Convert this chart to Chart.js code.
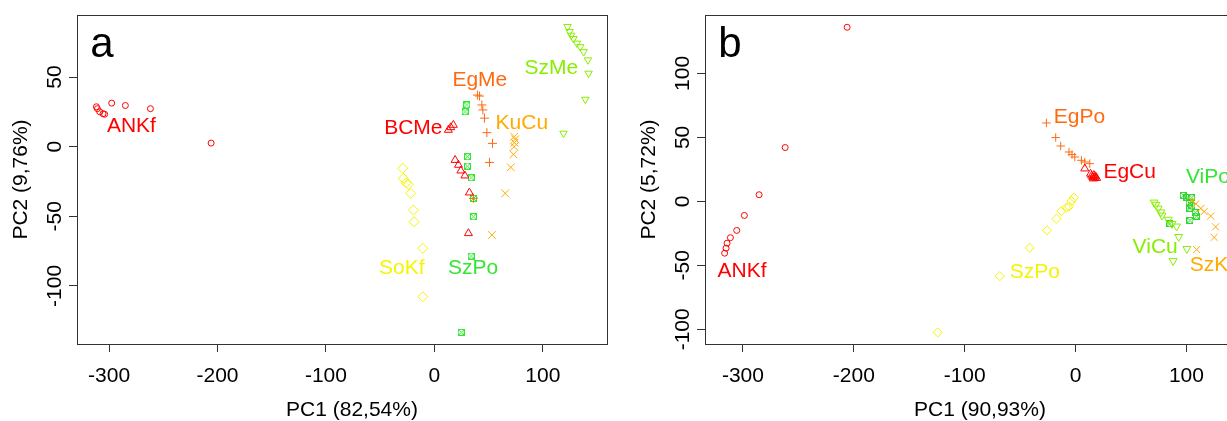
<!DOCTYPE html>
<html>
<head>
<meta charset="utf-8">
<title>PCA</title>
<script src="https://cdn.jsdelivr.net/npm/chart.js@4.4.1/dist/chart.umd.min.js"></script>
<style>
  html, body { margin: 0; padding: 0; background: #fff; overflow: hidden; }
  #wrap { position: relative; width: 1227px; height: 421px; overflow: hidden; }
  canvas { position: absolute; top: 0; }
  #pcaA { left: 0; }
  #pcaB { left: 628px; }
</style>
</head>
<body>
<div id="wrap">
  <canvas id="pcaA" width="614" height="421"></canvas>
  <canvas id="pcaB" width="614" height="421"></canvas>
</div>
<script>
var FONT = '"Liberation Sans", Arial, sans-serif'
var AXIS = '#333'

var RED = '#ff0000'
var ORANGERED = '#ff6a10'
var ORANGE = '#ffaa00'
var YELLOW = '#f5f500'
var LIME = '#88ee00'
var GREEN = '#33e633'

// ---- panel a ----
var namesA = ['ANKf', 'BCMe', 'EgMe', 'KuCu', 'SoKf', 'SzMe', 'SzPo']
var ankfA = [[-311.7, 28.7], [-310.8, 27.3], [-308.7, 25.1], [-305.6, 23.7], [-304.1, 23.3], [-297.6, 31.3], [-285.0, 29.6], [-261.9, 27.3], [-205.9, 2.6]]
var bcmeA = [[12.9, 12.0], [15.1, 13.9], [17.5, 15.6], [19.1, -9.6], [22.2, -13.1], [24.4, -17.2], [28.1, -20.8], [32.3, -33.0], [31.4, -62.2]]
var egmeA = [[39.7, 37.1], [41.6, 36.4], [43.8, 30.0], [44.7, 26.4], [46.2, 20.5], [48.4, 10.1], [53.6, 2.4], [50.8, -11.3], [36.0, -37.1]]
var kucuA = [[73.6, 7.2], [74.5, 5.3], [73.9, 2.9], [73.6, 0], [72.9, -5.5], [70.5, -14.8], [65.3, -33.5], [53.0, -63.4]]
var sokfA = [[-29.2, -15.5], [-28.6, -22.7], [-26.1, -25.9], [-24.0, -27.0], [-21.8, -33.5], [-19.4, -45.5], [-18.7, -53.9], [-10.7, -73.0], [-10.7, -107.8]]
var szmeA = [[122.8, 86.2], [124.7, 82.6], [126.2, 80.0], [128.3, 77.6], [131.5, 74.3], [134.5, 71.8], [137.6, 68.2], [141.6, 62.3], [142.2, 52.7], [139.2, 34.0], [119.1, 9.6]]
var szpoA = [[29.9, 30.0], [28.3, 25.1], [30.5, -7.2], [30.5, -13.9], [33.9, -22.3], [36.0, -37.1], [36.0, -50.3], [33.9, -78.5], [24.7, -133.3]]
var seriesA = [ankfA, bcmeA, egmeA, kucuA, sokfA, szmeA, szpoA]
var labelXA = [-279.4, -19.4, 41.9, 80.7, -30.1, 107.8, 35.7]
var labelYA = [14.9, 13.2, 47.9, 16.8, -87.4, 56.3, -87.4]
var xTicksA = [-300, -200, -100, 0, 100]
var yTicksA = [-100, -50, 0, 50]

// ---- panel b ----
var namesB = ['ANKf', 'EgCu', 'EgPo', 'SzKf', 'SzPo', 'ViCu', 'ViPo']
var ankfB = [[-206.0, 136.1], [-261.9, 42.1], [-285.4, 5.2], [-298.7, -11.0], [-305.6, -22.7], [-311.3, -28.4], [-314.3, -32.7], [-315.2, -36.6], [-316.5, -40.5]]
var egcuB = [[8.3, 25.6], [13.5, 21.5], [14.5, 20.0], [15.5, 19.0], [16.5, 20.5], [17.2, 18.5], [18.0, 19.5], [19.0, 18.2], [16.0, 17.8]]
var egpoB = [[-26.3, 61.3], [-17.9, 49.9], [-13.4, 43.3], [-5.9, 38.6], [-3.2, 36.6], [-0.7, 34.7], [5.3, 32.1], [8.3, 30.8], [12.8, 29.5]]
var szkfB = [[104.8, 0.5], [108.5, -2.0], [113.0, -5.5], [116.0, -8.0], [121.9, -11.5], [126.3, -19.9], [125.0, -28.2], [109.2, -37.7]]
var szpoB = [[-1.6, 2.9], [-3.7, 0.2], [-5.9, -3.9], [-8.2, -4.9], [-12.7, -7.6], [-17.2, -13.6], [-25.7, -22.7], [-41.4, -36.3], [-68.4, -58.5], [-124.3, -102.4]]
var vicuB = [[70.8, -0.8], [72.5, -2.5], [74.5, -5.5], [77.0, -8.5], [78.0, -11.0], [83.5, -14.2], [87.0, -17.5], [91.1, -19.5], [93.0, -27.7], [100.4, -37.1], [88.0, -46.5]]
var vipoB = [[97.1, 4.7], [100.4, 2.9], [104.7, 2.8], [102.5, -1.0], [105.0, -3.5], [103.1, -5.5], [108.0, -8.8], [109.0, -11.5], [103.2, -14.9], [85.1, -17.5]]
var seriesB = [ankfB, egcuB, egpoB, szkfB, szpoB, vicuB, vipoB]
var labelXB = [-300.8, 48.8, 3.5, 123.0, -36.8, 71.8, 119.4]
var labelYB = [-54.8, 23.0, 65.6, -50.1, -55.4, -35.8, 19.0]
var xTicksB = [-300, -200, -100, 0, 100]
var yTicksB = [-100, -50, 0, 50, 100]

// square with an X inside (R pch 7), used as an image point style
function boxCross (color, size) {
  var c = document.createElement('canvas')
  c.width = size
  c.height = size
  var g = c.getContext('2d')
  g.strokeStyle = color
  g.lineWidth = 1
  g.strokeRect(0.5, 0.5, size - 1, size - 1)
  g.beginPath()
  g.moveTo(1, 1)
  g.lineTo(size - 1, size - 1)
  g.moveTo(size - 1, 1)
  g.lineTo(1, size - 1)
  g.stroke()
  return c
}

var styleA = [
  { color: RED, shape: 'circle', r: 3 },
  { color: RED, shape: 'triangle', r: 4.6 },
  { color: ORANGERED, shape: 'cross', r: 4.5 },
  { color: ORANGE, shape: 'crossRot', r: 5.5 },
  { color: YELLOW, shape: 'rectRot', r: 5 },
  { color: LIME, shape: 'triangle', r: 4.3, rot: 180 },
  { color: GREEN, shape: boxCross(GREEN, 7), r: 4 }
]
var styleB = [
  { color: RED, shape: 'circle', r: 3 },
  { color: RED, shape: 'triangle', r: 4.6 },
  { color: ORANGERED, shape: 'cross', r: 4.2 },
  { color: ORANGE, shape: 'crossRot', r: 5 },
  { color: YELLOW, shape: 'rectRot', r: 4.6 },
  { color: LIME, shape: 'triangle', r: 4.6, rot: 180 },
  { color: GREEN, shape: boxCross('#2ed62e', 7), r: 4 }
]

function buildDatasets (names, series, styles) {
  return names.map(function (name, i) {
    var s = styles[i]
    return {
      label: name,
      data: series[i].map(function (p) { return { x: p[0], y: p[1] } }),
      pointStyle: s.shape,
      pointRadius: s.r,
      pointHoverRadius: s.r,
      pointRotation: s.rot || 0,
      pointBorderColor: s.color,
      pointBackgroundColor: 'rgba(0,0,0,0)',
      pointBorderWidth: 1
    }
  })
}

// box round the plotting region
var framePlugin = {
  id: 'frame',
  beforeDatasetsDraw: function (chart) {
    var a = chart.chartArea
    var ctx = chart.ctx
    ctx.save()
    ctx.strokeStyle = AXIS
    ctx.lineWidth = 1
    ctx.strokeRect(Math.round(a.left) + 0.5, Math.round(a.top) + 0.5, Math.round(a.right - a.left), Math.round(a.bottom - a.top))
    ctx.restore()
  }
}

// group names at data positions, the panel letter and the x-axis title
function labelPlugin (p) {
  return {
    id: 'groupLabels',
    afterDatasetsDraw: function (chart) {
      var ctx = chart.ctx
      var xs = chart.scales.x
      var ys = chart.scales.y
      var area = chart.chartArea
      ctx.save()
      ctx.font = '21px ' + FONT
      ctx.textAlign = 'center'
      ctx.textBaseline = 'middle'
      for (var i = 0; i < p.names.length; i++) {
        ctx.fillStyle = p.styles[i].color
        ctx.fillText(p.names[i], xs.getPixelForValue(p.labelX[i]), ys.getPixelForValue(p.labelY[i]))
      }
      // R puts the xlab a little right of the box centre here
      ctx.fillStyle = '#000'
      ctx.fillText(p.xTitle, (area.left + area.right) / 2 + 10, 410)
      ctx.font = '42px ' + FONT
      ctx.textBaseline = 'alphabetic'
      ctx.fillText(p.letter, area.left + 25, 57)
      ctx.restore()
    }
  }
}

function makeChart (id, p) {
  new Chart(document.getElementById(id), {
    type: 'scatter',
    data: { datasets: buildDatasets(p.names, p.series, p.styles) },
    options: {
      responsive: false,
      animation: false,
      devicePixelRatio: 1,
      layout: { padding: { top: 15, right: 7, left: 0, bottom: 0 } },
      plugins: {
        legend: { display: false },
        tooltip: { enabled: false }
      },
      scales: {
        x: {
          type: 'linear',
          min: p.xRange[0],
          max: p.xRange[1],
          afterBuildTicks: function (s) { s.ticks = p.xTicks.map(function (v) { return { value: v } }) },
          afterFit: function (s) { s.height = 77 },
          grid: { drawOnChartArea: false, tickLength: 8, color: AXIS, lineWidth: 1 },
          border: { color: AXIS },
          ticks: { color: '#000', font: { size: 21 }, padding: 12, maxRotation: 0, autoSkip: false },
          title: { display: false }
        },
        y: {
          type: 'linear',
          min: p.yRange[0],
          max: p.yRange[1],
          afterBuildTicks: function (s) { s.ticks = p.yTicks.map(function (v) { return { value: v } }) },
          afterFit: function (s) { s.width = 77 },
          grid: { drawOnChartArea: false, tickLength: 8, color: AXIS, lineWidth: 1 },
          border: { color: AXIS },
          ticks: { color: '#000', font: { size: 21 }, padding: -7, crossAlign: 'center', minRotation: 90, maxRotation: 90, autoSkip: false },
          title: { display: true, text: p.yTitle, color: '#000', font: { size: 21, lineHeight: 1 }, padding: { top: 11, bottom: 0 } }
        }
      }
    },
    plugins: [framePlugin, labelPlugin(p)]
  })
}

Chart.defaults.font.family = FONT

makeChart('pcaA', {
  letter: 'a',
  names: namesA,
  series: seriesA,
  styles: styleA,
  labelX: labelXA,
  labelY: labelYA,
  xTicks: xTicksA,
  yTicks: yTicksA,
  xRange: [-329.6, 159.2],
  yRange: [-141.7, 94.6],
  xTitle: 'PC1 (82,54%)',
  yTitle: 'PC2 (9,76%)'
})

makeChart('pcaB', {
  letter: 'b',
  names: namesB,
  series: seriesB,
  styles: styleB,
  labelX: labelXB,
  labelY: labelYB,
  xTicks: xTicksB,
  yTicks: yTicksB,
  xRange: [-334.2, 143.8],
  yRange: [-111.5, 145.7],
  xTitle: 'PC1 (90,93%)',
  yTitle: 'PC2 (5,72%)'
})
</script>
</body>
</html>
